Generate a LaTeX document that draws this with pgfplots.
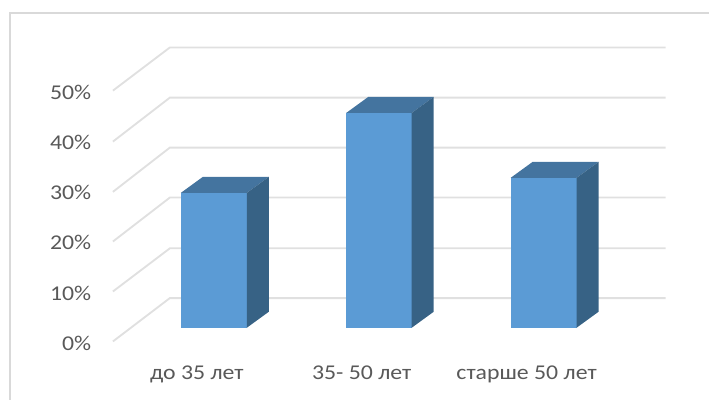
\documentclass[border=0pt]{standalone}
\usepackage{pgfplots}
\pgfplotsset{compat=1.18}
\usepackage{fontspec}
\setmainfont[FakeStretch=1.13]{Carlito}
\definecolor{grid}{HTML}{E0E0E0}
\definecolor{frame}{HTML}{D9D9D9}
\definecolor{barfront}{HTML}{5B9BD5}
\definecolor{bartop}{HTML}{44749F}
\definecolor{barside}{HTML}{376285}
\definecolor{txt}{HTML}{595959}
\pgfplotsset{
  gridln/.style={draw=grid,line width=1.4pt,forget plot},
  front/.style={fill=barfront,draw=none,forget plot},
  top/.style={fill=bartop,draw=none,forget plot},
  side/.style={fill=barside,draw=none,forget plot},
}
\begin{document}
\begin{tikzpicture}
\begin{axis}[
  scale only axis,
  width=532.5pt,height=300pt,
  xmin=0,xmax=710,
  ymin=-14.4,ymax=65.6,
  axis line style={draw=none},
  tick style={draw=none},
  clip=false,
  xtick={197,362,527},
  xticklabels={до 35 лет,35- 50 лет,старше 50 лет},
  ytick={-3.2,6.9,17.0,27.0,37.0,47.2},
  yticklabels={0\%,10\%,20\%,30\%,40\%,50\%},
  tick label style={font=\fontsize{15.8pt}{18pt}\selectfont,text=txt},
  xticklabel style={yshift=29pt},
  yticklabel style={xshift=72pt},
]
% chart frame
\addplot[draw=frame,line width=0.8pt,forget plot] coordinates {(10,-14.4) (10,63) (710,63)};
% gridlines: wall and floor
\addplot[gridln] coordinates {(113,-2.74) (170,5.94) (666,5.94)};
\addplot[gridln] coordinates {(113,7.26) (170,15.9) (666,15.9)};
\addplot[gridln] coordinates {(113,17.26) (170,26.06) (666,26.06)};
\addplot[gridln] coordinates {(113,27.2) (170,36.06) (666,36.06)};
\addplot[gridln] coordinates {(113,37.26) (170,46.06) (666,46.06)};
\addplot[gridln] coordinates {(113,47.46) (170,56.1) (666,56.1)};
% bar 1: 27%
\addplot[front] coordinates {(181,0) (247,0) (247,27) (181,27)} --cycle;
\addplot[top] coordinates {(181,27) (203,30.2) (269,30.2) (247,27)} --cycle;
\addplot[side] coordinates {(247,0) (269,3.2) (269,30.2) (247,27)} --cycle;
% bar 2: 43%
\addplot[front] coordinates {(346.5,0) (412,0) (412,43) (346.5,43)} --cycle;
\addplot[top] coordinates {(346.5,43) (368.5,46.2) (434,46.2) (412,43)} --cycle;
\addplot[side] coordinates {(412,0) (434,3.2) (434,46.2) (412,43)} --cycle;
% bar 3: 30%
\addplot[front] coordinates {(511,0) (577,0) (577,30) (511,30)} --cycle;
\addplot[top] coordinates {(511,30) (533,33.2) (599,33.2) (577,30)} --cycle;
\addplot[side] coordinates {(577,0) (599,3.2) (599,33.2) (577,30)} --cycle;
\end{axis}
\end{tikzpicture}
\end{document}
